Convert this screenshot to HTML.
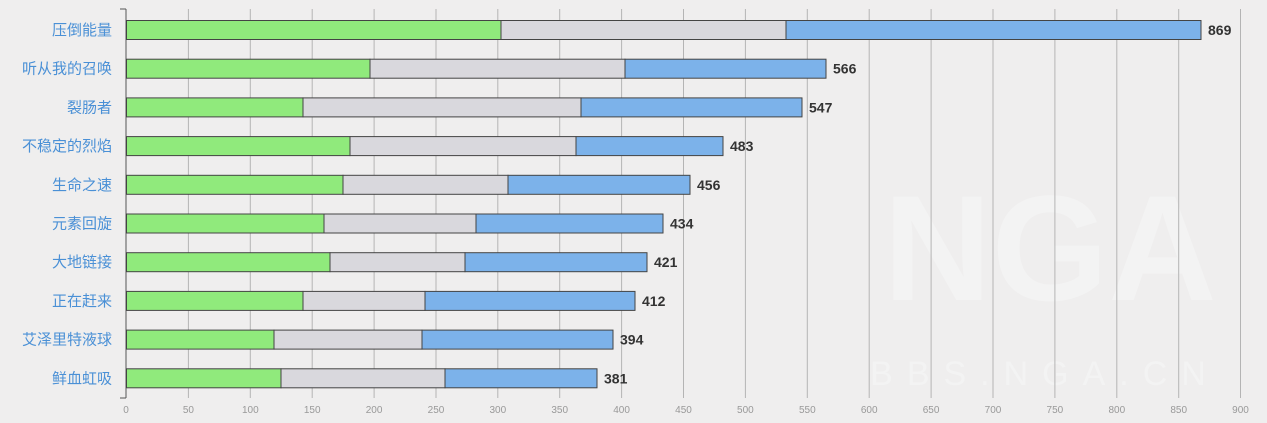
<!DOCTYPE html><html><head><meta charset="utf-8"><style>body{margin:0;background:#efeeee}svg{display:block}</style></head><body>
<svg width="1267" height="423" xmlns="http://www.w3.org/2000/svg" font-family="Liberation Sans, Noto Sans CJK SC, sans-serif">
<rect width="1267" height="423" fill="#efeeee"/>
<text x="1050" y="300" font-size="150" font-weight="bold" fill="#f3f3f3" text-anchor="middle">NGA</text>
<text x="1045" y="385" font-size="34" fill="#f3f3f3" text-anchor="middle" letter-spacing="14">BBS.NGA.CN</text>
<g stroke="#b4b4b4" stroke-width="1">
<line x1="188.4" y1="9" x2="188.4" y2="398"/><line x1="250.3" y1="9" x2="250.3" y2="398"/><line x1="312.2" y1="9" x2="312.2" y2="398"/><line x1="374.1" y1="9" x2="374.1" y2="398"/><line x1="436" y1="9" x2="436" y2="398"/><line x1="497.8" y1="9" x2="497.8" y2="398"/><line x1="559.7" y1="9" x2="559.7" y2="398"/><line x1="621.6" y1="9" x2="621.6" y2="398"/><line x1="683.5" y1="9" x2="683.5" y2="398"/><line x1="745.4" y1="9" x2="745.4" y2="398"/><line x1="807.3" y1="9" x2="807.3" y2="398"/><line x1="869.2" y1="9" x2="869.2" y2="398"/><line x1="931.1" y1="9" x2="931.1" y2="398"/><line x1="993" y1="9" x2="993" y2="398"/><line x1="1054.9" y1="9" x2="1054.9" y2="398"/><line x1="1116.8" y1="9" x2="1116.8" y2="398"/><line x1="1178.7" y1="9" x2="1178.7" y2="398"/><line x1="1240.5" y1="9" x2="1240.5" y2="398"/>
</g>
<g stroke="#555" stroke-width="1">
<line x1="126" y1="9" x2="126" y2="398"/>
<line x1="120" y1="9" x2="126" y2="9"/><line x1="120" y1="398" x2="126" y2="398"/>
</g>
<g font-size="10" fill="#999" text-anchor="middle">
<text x="126" y="413">0</text><text x="188.4" y="413">50</text><text x="250.3" y="413">100</text><text x="312.2" y="413">150</text><text x="374.1" y="413">200</text><text x="436" y="413">250</text><text x="497.8" y="413">300</text><text x="559.7" y="413">350</text><text x="621.6" y="413">400</text><text x="683.5" y="413">450</text><text x="745.4" y="413">500</text><text x="807.3" y="413">550</text><text x="869.2" y="413">600</text><text x="931.1" y="413">650</text><text x="993" y="413">700</text><text x="1054.9" y="413">750</text><text x="1116.8" y="413">800</text><text x="1178.7" y="413">850</text><text x="1240.5" y="413">900</text>
</g>
<g id="bars" stroke="#444" stroke-width="1"></g>
<g id="labs" font-size="15" fill="#4a90d6" text-anchor="end"></g>
<g id="vals" font-size="14" font-weight="bold" fill="#333"></g>
<script>
var d=[["压倒能量",501,786,1201,869],["听从我的召唤",370,625,826,566],["裂肠者",303,581,802,547],["不稳定的烈焰",350,576,723,483],["生命之速",343,508,690,456],["元素回旋",324,476,663,434],["大地链接",330,465,647,421],["正在赶来",303,425,635,412],["艾泽里特液球",274,422,613,394],["鲜血虹吸",281,445,597,381]];
var ns="http://www.w3.org/2000/svg",B=document.getElementById("bars"),L=document.getElementById("labs"),V=document.getElementById("vals");
function el(p,t,a,txt){var e=document.createElementNS(ns,t);for(var k in a)e.setAttribute(k,a[k]);if(txt)e.textContent=txt;p.appendChild(e);}
d.forEach(function(r,i){var y=20.5+i*38.7;
el(B,"rect",{x:126.5,y:y,width:r[1]-126.5,height:19,fill:"#90ea7c"});
el(B,"rect",{x:r[1],y:y,width:r[2]-r[1],height:19,fill:"#d9d8dd"});
el(B,"rect",{x:r[2],y:y,width:r[3]-r[2],height:19,fill:"#7cb2ea"});
el(L,"text",{x:112,y:y+14.5},r[0]);
el(V,"text",{x:r[3]+7,y:y+14.5},String(r[4]));});
</script>
</svg></body></html>
